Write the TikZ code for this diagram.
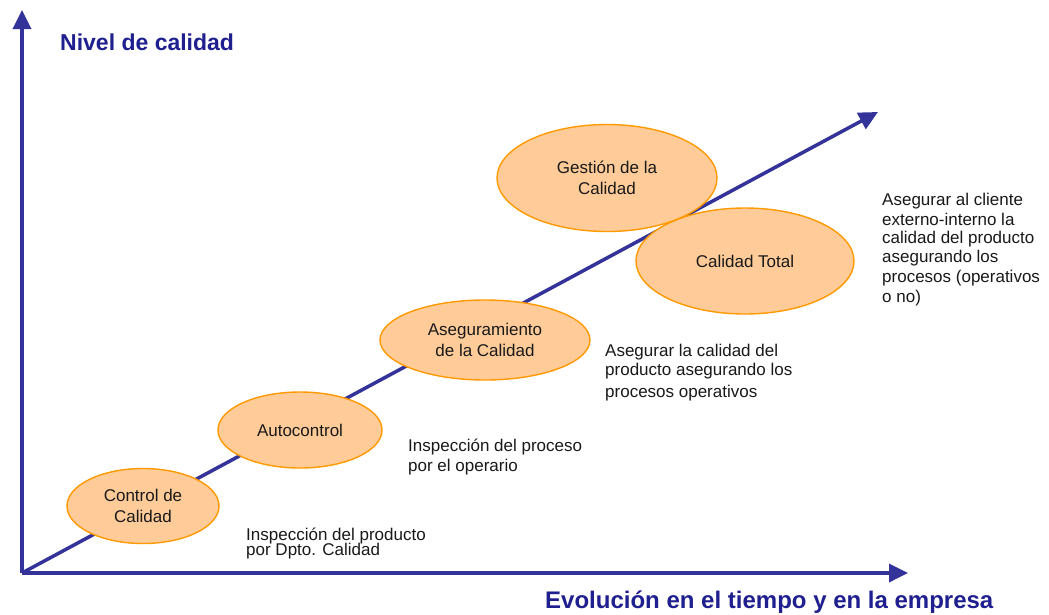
\documentclass[tikz,border=0pt]{standalone}
\usepackage{fontspec}
\setmainfont{Liberation Sans}
\usetikzlibrary{arrows.meta,shapes.geometric}
\definecolor{axisblue}{HTML}{333399}
\definecolor{titleblue}{HTML}{1F1F8F}
\definecolor{ellfill}{HTML}{FFCC99}
\definecolor{elldraw}{HTML}{FF9900}
\begin{document}
\begin{tikzpicture}[x=1pt,y=-1pt,
  axis/.style={draw=axisblue,line width=3.5pt,-{Triangle[length=19pt,width=18pt]}},
  stage/.style={ellipse,draw=elldraw,fill=ellfill,line width=1.4pt,inner sep=0pt,align=center,font=\fontsize{17}{21}\selectfont,text=black!90},
  note/.style={anchor=base west,inner sep=0pt,font=\fontsize{17}{20}\selectfont,text=black!90},
  title/.style={anchor=base west,inner sep=0pt,font=\bfseries\fontsize{23}{27}\selectfont,text=titleblue}]
\useasboundingbox (0,0) rectangle (1049,614);
\fill[white] (0,0) rectangle (1049,614);
% axes
\coordinate (o) at (22,573);
\coordinate (ytop) at (22,10);
\coordinate (xend) at (908,573);
\coordinate (dend) at (878,112);
\draw[axis] (o) -- (ytop);
\draw[axis] (o) -- (xend);
\draw[axis] (o) -- (dend);
% titles
\node[title] (ylab) at (60,50) {Nivel de calidad};
\node[title,font=\bfseries\fontsize{24}{28}\selectfont] (xlab) at (545,608) {Evolución en el tiempo y en la empresa};
% stages
\node[stage,minimum width=152pt,minimum height=75pt] (s1) at (143,506) {Control de\\Calidad};
\node[stage,minimum width=164pt,minimum height=76pt] (s2) at (300,430) {Autocontrol};
\node[stage,minimum width=210pt,minimum height=80pt] (s3) at (485,340) {Aseguramiento\\de la Calidad};
\node[stage,minimum width=220pt,minimum height=107pt] (s4) at (607,178) {Gestión de la\\Calidad};
\node[stage,minimum width=218pt,minimum height=106pt] (s5) at (745,261) {Calidad Total};
% notes
\node[note] (n1a) at (246,540) {Inspección del producto};
\node[note] (n1b) at (246,555) {por Dpto. Calidad};
\node[note] (n2a) at (408,451) {Inspección del proceso};
\node[note] (n2b) at (408,471) {por el operario};
\node[note] (n3a) at (605,356) {Asegurar la calidad del};
\node[note] (n3b) at (605,375) {producto asegurando los};
\node[note] (n3c) at (605,397) {procesos operativos};
\node[note] (n4a) at (882,205) {Asegurar al cliente};
\node[note] (n4b) at (882,225) {externo-interno la};
\node[note] (n4c) at (882,243) {calidad del producto};
\node[note] (n4d) at (882,262) {asegurando los};
\node[note] (n4e) at (882,282) {procesos (operativos};
\node[note] (n4f) at (882,302) {o no)};
\end{tikzpicture}
\end{document}
